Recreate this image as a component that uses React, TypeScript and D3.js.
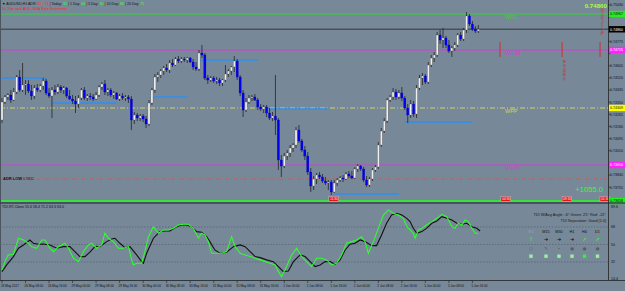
import * as d3 from 'd3';

const W = 625;
const H = 291;
const AXIS_X = 608.5;
const FONT = 'Liberation Sans, Arial, sans-serif';

// AUDUSD H1 bars: [open, high, low, close]
const candles: [number, number, number, number][] = [
  [0.74225, 0.74379, 0.74204, 0.74351], [0.74351, 0.74400, 0.74337, 0.74386], [0.74386, 0.74414, 0.74365, 0.74400],
  [0.74400, 0.74435, 0.74344, 0.74365], [0.74365, 0.74449, 0.74358, 0.74421], [0.74421, 0.74540, 0.74407, 0.74526],
  [0.74526, 0.74575, 0.74421, 0.74435], [0.74435, 0.74624, 0.74421, 0.74470], [0.74470, 0.74505, 0.74400, 0.74477],
  [0.74477, 0.74505, 0.74414, 0.74428], [0.74428, 0.74470, 0.74365, 0.74393], [0.74393, 0.74470, 0.74372, 0.74449],
  [0.74449, 0.74477, 0.74421, 0.74435], [0.74435, 0.74477, 0.74421, 0.74463], [0.74463, 0.74519, 0.74435, 0.74498],
  [0.74498, 0.74512, 0.74400, 0.74414], [0.74414, 0.74449, 0.74379, 0.74393], [0.74393, 0.74456, 0.74239, 0.74435],
  [0.74435, 0.74470, 0.74400, 0.74421], [0.74421, 0.74477, 0.74407, 0.74456], [0.74456, 0.74470, 0.74414, 0.74435],
  [0.74435, 0.74463, 0.74407, 0.74449], [0.74449, 0.74456, 0.74379, 0.74393], [0.74393, 0.74435, 0.74365, 0.74372],
  [0.74372, 0.74400, 0.74337, 0.74358], [0.74358, 0.74393, 0.74274, 0.74337], [0.74337, 0.74400, 0.74309, 0.74379],
  [0.74379, 0.74449, 0.74365, 0.74435], [0.74435, 0.74456, 0.74365, 0.74379], [0.74379, 0.74407, 0.74358, 0.74393],
  [0.74393, 0.74414, 0.74365, 0.74386], [0.74386, 0.74407, 0.74358, 0.74372], [0.74372, 0.74421, 0.74365, 0.74400],
  [0.74400, 0.74470, 0.74386, 0.74456], [0.74456, 0.74491, 0.74435, 0.74477], [0.74477, 0.74505, 0.74400, 0.74421],
  [0.74421, 0.74449, 0.74393, 0.74435], [0.74435, 0.74449, 0.74386, 0.74400], [0.74400, 0.74428, 0.74372, 0.74414],
  [0.74414, 0.74421, 0.74365, 0.74372], [0.74372, 0.74407, 0.74358, 0.74393], [0.74393, 0.74414, 0.74365, 0.74379],
  [0.74379, 0.74400, 0.74358, 0.74386], [0.74386, 0.74400, 0.74344, 0.74372], [0.74372, 0.74393, 0.74155, 0.74225],
  [0.74225, 0.74281, 0.74197, 0.74260], [0.74260, 0.74274, 0.74218, 0.74239], [0.74239, 0.74267, 0.74218, 0.74253],
  [0.74253, 0.74267, 0.74211, 0.74232], [0.74232, 0.74253, 0.74169, 0.74197], [0.74197, 0.74365, 0.74183, 0.74344],
  [0.74344, 0.74449, 0.74330, 0.74435], [0.74435, 0.74547, 0.74414, 0.74526], [0.74526, 0.74561, 0.74491, 0.74540],
  [0.74540, 0.74582, 0.74519, 0.74568], [0.74568, 0.74603, 0.74540, 0.74589], [0.74589, 0.74617, 0.74561, 0.74575],
  [0.74575, 0.74645, 0.74554, 0.74624], [0.74624, 0.74652, 0.74596, 0.74610], [0.74610, 0.74666, 0.74603, 0.74652],
  [0.74652, 0.74673, 0.74624, 0.74638], [0.74638, 0.74666, 0.74624, 0.74652], [0.74652, 0.74666, 0.74631, 0.74645],
  [0.74645, 0.74666, 0.74624, 0.74659], [0.74659, 0.74666, 0.74624, 0.74631], [0.74631, 0.74652, 0.74575, 0.74596],
  [0.74596, 0.74631, 0.74568, 0.74582], [0.74582, 0.74715, 0.74568, 0.74694], [0.74694, 0.74750, 0.74659, 0.74680],
  [0.74680, 0.74694, 0.74505, 0.74519], [0.74519, 0.74540, 0.74477, 0.74505], [0.74505, 0.74533, 0.74491, 0.74519],
  [0.74519, 0.74533, 0.74484, 0.74498], [0.74498, 0.74526, 0.74477, 0.74505], [0.74505, 0.74519, 0.74463, 0.74484],
  [0.74484, 0.74512, 0.74463, 0.74505], [0.74505, 0.74610, 0.74491, 0.74547], [0.74547, 0.74582, 0.74526, 0.74568],
  [0.74568, 0.74603, 0.74540, 0.74596], [0.74596, 0.74673, 0.74561, 0.74638], [0.74638, 0.74652, 0.74505, 0.74526],
  [0.74526, 0.74540, 0.74393, 0.74414], [0.74414, 0.74435, 0.74246, 0.74295], [0.74295, 0.74379, 0.74281, 0.74351],
  [0.74351, 0.74400, 0.74337, 0.74379], [0.74379, 0.74400, 0.74358, 0.74386], [0.74386, 0.74407, 0.74358, 0.74365],
  [0.74365, 0.74379, 0.74295, 0.74316], [0.74316, 0.74337, 0.74288, 0.74302], [0.74302, 0.74330, 0.74274, 0.74316],
  [0.74316, 0.74330, 0.74246, 0.74274], [0.74274, 0.74309, 0.74225, 0.74239], [0.74239, 0.74281, 0.74218, 0.74253],
  [0.74253, 0.74540, 0.74120, 0.74225], [0.74225, 0.74239, 0.73875, 0.73945], [0.73945, 0.73980, 0.73826, 0.73903],
  [0.73903, 0.73994, 0.73889, 0.73973], [0.73973, 0.74015, 0.73945, 0.73994], [0.73994, 0.74050, 0.73966, 0.74029],
  [0.74029, 0.74064, 0.74001, 0.74050], [0.74050, 0.74176, 0.74029, 0.74155], [0.74155, 0.74190, 0.74064, 0.74078],
  [0.74078, 0.74092, 0.74001, 0.74015], [0.74015, 0.74043, 0.73945, 0.73973], [0.73973, 0.74001, 0.73840, 0.73861],
  [0.73861, 0.73889, 0.73721, 0.73763], [0.73763, 0.73833, 0.73735, 0.73812], [0.73812, 0.73854, 0.73777, 0.73840],
  [0.73840, 0.73861, 0.73812, 0.73826], [0.73826, 0.73847, 0.73784, 0.73798], [0.73798, 0.73826, 0.73770, 0.73784],
  [0.73784, 0.73805, 0.73735, 0.73791], [0.73791, 0.73805, 0.73700, 0.73721], [0.73721, 0.73805, 0.73714, 0.73784],
  [0.73784, 0.73819, 0.73763, 0.73805], [0.73805, 0.73833, 0.73791, 0.73819], [0.73819, 0.73840, 0.73791, 0.73812],
  [0.73812, 0.73861, 0.73805, 0.73847], [0.73847, 0.73868, 0.73819, 0.73833], [0.73833, 0.73868, 0.73812, 0.73819],
  [0.73819, 0.73896, 0.73812, 0.73882], [0.73882, 0.73917, 0.73861, 0.73903], [0.73903, 0.73910, 0.73868, 0.73882],
  [0.73882, 0.73896, 0.73791, 0.73805], [0.73805, 0.73833, 0.73756, 0.73770], [0.73770, 0.73826, 0.73756, 0.73812],
  [0.73812, 0.73889, 0.73798, 0.73875], [0.73875, 0.73910, 0.73861, 0.73896], [0.73896, 0.74071, 0.73882, 0.74050],
  [0.74050, 0.74169, 0.74036, 0.74148], [0.74148, 0.74239, 0.74134, 0.74218], [0.74218, 0.74379, 0.74204, 0.74365],
  [0.74365, 0.74400, 0.74351, 0.74386], [0.74386, 0.74449, 0.74365, 0.74421], [0.74421, 0.74442, 0.74365, 0.74386],
  [0.74386, 0.74435, 0.74372, 0.74414], [0.74414, 0.74456, 0.74358, 0.74379], [0.74379, 0.74393, 0.74295, 0.74309],
  [0.74309, 0.74337, 0.74204, 0.74260], [0.74260, 0.74365, 0.74239, 0.74337], [0.74337, 0.74358, 0.74246, 0.74267],
  [0.74267, 0.74470, 0.74239, 0.74449], [0.74449, 0.74540, 0.74435, 0.74519], [0.74519, 0.74554, 0.74470, 0.74533],
  [0.74533, 0.74547, 0.74477, 0.74491], [0.74491, 0.74631, 0.74477, 0.74610], [0.74610, 0.74680, 0.74596, 0.74659],
  [0.74659, 0.74701, 0.74631, 0.74680], [0.74680, 0.74841, 0.74666, 0.74820], [0.74820, 0.74855, 0.74757, 0.74785],
  [0.74785, 0.74869, 0.74729, 0.74799], [0.74799, 0.74813, 0.74729, 0.74750], [0.74750, 0.74785, 0.74694, 0.74708],
  [0.74708, 0.74743, 0.74666, 0.74729], [0.74729, 0.74771, 0.74708, 0.74750], [0.74750, 0.74834, 0.74736, 0.74820],
  [0.74820, 0.74841, 0.74778, 0.74792], [0.74792, 0.74869, 0.74778, 0.74855], [0.74855, 0.74981, 0.74834, 0.74953],
  [0.74953, 0.74967, 0.74883, 0.74897], [0.74897, 0.74918, 0.74848, 0.74862], [0.74862, 0.74883, 0.74834, 0.74848],
  [0.74848, 0.74890, 0.74834, 0.74860],
];

const priceTicks = [
  0.75030, 0.74945, 0.74860, 0.74775, 0.74690, 0.74605, 0.74520, 0.74435, 0.74350,
  0.74265, 0.74180, 0.74095, 0.74010, 0.73925, 0.73840, 0.73755, 0.73670,
];

// one label every 8 bars
const timeLabels = [
  '26 May 2017', '26 May 08:00', '26 May 16:00', '29 May 00:00', '29 May 08:00', '29 May 16:00',
  '30 May 00:00', '30 May 08:00', '30 May 16:00', '31 May 00:00', '31 May 08:00', '31 May 16:00',
  '1 Jun 00:00', '1 Jun 08:00', '1 Jun 16:00', '2 Jun 00:00', '2 Jun 08:00', '2 Jun 16:00',
  '5 Jun 00:00', '5 Jun 08:00', '5 Jun 16:00',
];

const pivotNames = ['WR1', 'WR38', 'WPP', 'WS38', 'WS1'];
const pivotPrices = [0.74967, 0.74715, 0.74309, 0.73910, 0.73658];
const bidPrice = 0.74860;
const adrLowPrice = 0.73812;

// support / resistance stubs: [fromBar, toBar, price]
const srLevels: [number, number, number][] = [
  [0, 15, 0.74519], [17, 39, 0.74344], [51, 63, 0.74386], [67, 87, 0.74645],
  [90, 111, 0.74302], [113, 135, 0.73707], [137, 160, 0.74211],
];

// news events (bar position, time)
const eventBars = [111.2, 169.7, 190.5, 203.4];
const eventTimes = ['11:30', '04:30', '09:30', '01:30'];
const eventLineBars = [169.4, 190.5, 203.4];
const eventLineTexts = ['', 'AUD RBA 4h', 'USD ISM Non-Mfg'];

// TDI: [bar, value]
const tdiGreen: [number, number][] = [
  [0, 23.8], [1, 32.3], [2.1, 39.2], [3.9, 39.9], [5.6, 56.4], [7.3, 54.6], [9, 51.2], [10.1, 47.7], [11.8, 46.1],
  [13.5, 54.6], [14.6, 54.6], [16.3, 46.1], [17.5, 42.6], [19.2, 47.7], [21.4, 51.2], [22.6, 46.1], [24.3, 35.8],
  [26, 32.3], [27.7, 42.6], [29.4, 49.5], [30.5, 51.2], [32.2, 46.1], [33.9, 49.5], [35, 61.5], [36.2, 56.4],
  [37.9, 52.9], [39.6, 46.1], [41.3, 46.1], [43, 47.7], [44.1, 34.1], [44.7, 28.9], [45.8, 30.7], [47.5, 30.7],
  [48.6, 42.6], [49.8, 58.0], [51.5, 68.3], [53.2, 61.5], [54.9, 64.9], [56.6, 64.9], [58.3, 66.6], [60, 70.1],
  [61.7, 70.8], [63.4, 70.8], [65.1, 66.6], [66.8, 56.4], [67.9, 61.5], [69, 59.8], [70.2, 52.9], [71.3, 40.9],
  [73, 40.9], [74.7, 40.9], [76.4, 42.6], [78.1, 58.0], [79.3, 47.7], [81, 40.9], [82.7, 39.2], [84.4, 37.5],
  [86.1, 35.8], [87.8, 34.1], [89.5, 32.3], [91.2, 30.7], [92.9, 28.9], [94, 22.0], [95.1, 16.9], [96.8, 27.2],
  [98.5, 39.2], [100.2, 46.1], [101.9, 37.5], [103.6, 32.3], [105.3, 27.2], [107, 35.8], [108.7, 35.8],
  [110.4, 34.1], [112.1, 28.9], [113.8, 30.7], [115.5, 39.2], [117.2, 51.2], [118.9, 52.9], [120.6, 54.6],
  [122.3, 58.0], [123.5, 52.9], [124.6, 40.9], [126.3, 52.9], [128, 66.6], [129.7, 80.3], [131.4, 85.5],
  [133.1, 82.1], [134.8, 80.3], [136.5, 76.9], [137.7, 68.3], [138.8, 64.9], [139.9, 61.5], [140.5, 56.4],
  [141.6, 64.9], [142.8, 66.6], [144.4, 70.1], [146.2, 73.5], [147.9, 76.9], [149.6, 81.0], [151.3, 78.6],
  [153, 68.3], [154.1, 66.6], [155.2, 71.8], [156.4, 70.1], [157.5, 75.2], [158.6, 73.5], [159.8, 66.6],
  [160.9, 61.5], [162, 61.5],
];

const tdiBlack: [number, number][] = [
  [0, 22.0], [1.6, 28.9], [3.9, 37.5], [5.6, 46.1], [7.3, 49.5], [9.5, 54.6], [10.7, 51.2], [12.4, 50.2],
  [14, 50.5], [16.3, 49.5], [18.6, 46.1], [20.9, 47.7], [23.1, 47.7], [24.8, 42.6], [26.5, 37.5], [28.2, 37.5],
  [29.9, 42.0], [31.6, 47.7], [33.3, 47.7], [35.6, 52.9], [37.3, 55.7], [38.4, 56.4], [40.1, 51.2], [41.8, 46.7],
  [43.5, 47.7], [45.8, 39.2], [47.5, 32.3], [48.1, 30.7], [49.2, 40.9], [51.5, 56.4], [53.7, 63.2], [55.4, 63.9],
  [57.1, 63.9], [59.4, 68.3], [61.1, 70.1], [62.8, 70.1], [64.5, 68.3], [66.2, 63.2], [67.9, 62.5], [69.6, 58.0],
  [70.7, 52.9], [72.4, 44.3], [74.1, 40.9], [76.4, 42.0], [78.7, 47.7], [81, 49.5], [82.7, 47.7], [84.4, 42.6],
  [86.1, 37.5], [87.8, 36.4], [90, 34.1], [92.3, 32.3], [94, 27.2], [95.7, 22.0], [97.4, 22.7], [99.1, 32.3],
  [101.4, 39.2], [103.1, 37.5], [104.8, 32.3], [106.5, 27.2], [108.2, 28.9], [109.9, 32.3], [111.6, 32.3],
  [113.3, 29.6], [115, 34.1], [116.7, 44.3], [118.4, 50.2], [120.1, 51.2], [121.8, 54.6], [123.5, 52.9],
  [125.7, 48.8], [127.4, 48.8], [129.1, 59.8], [130.8, 71.8], [132.5, 80.3], [134.2, 82.1], [136, 80.3],
  [137.7, 76.9], [138.8, 73.5], [139.9, 66.6], [141.1, 61.5], [142.8, 63.2], [144.4, 66.6], [146.2, 71.8],
  [147.9, 74.2], [149.6, 78.6], [151.3, 76.9], [153, 75.2], [154.7, 71.8], [156.4, 70.8], [158.1, 71.8],
  [159.8, 68.3], [161.5, 66.6], [162.6, 63.9],
];

const tdiLevels = [68, 50, 32];
const tdiRange = [14.4, 89.6];

const tfNames = ['M1', 'M15', 'M30', 'H1', 'H4', 'D1'];
const tfArrows = ['↑', '➜', '➜', '➜', '↗', '↗'];
const tfStatus = ['○', '✎', '•', '●', '●', '●'];
const tfStrong = [false, false, false, false, true, false];

export default function App() {
  const x = d3.scaleLinear().domain([0, 162]).range([2, 478.3]);
  const y = d3.scaleLinear().domain([0.75065, 0.73665]).range([0, 200]);
  const ty = d3.scaleLinear().domain(tdiRange).range([279, 206]);

  const tdiLine = d3.line<[number, number]>().x(d => x(d[0])).y(d => ty(d[1]));

  const pivotColor = ['#33d633', '#d23fd2', '#d2d26a', '#d23fd2', '#22ff22'];
  const boxColor = ['#22ee22', '#ff22ff', '#ffff00', '#ff22ff', '#22ee22'];
  const boxText = ['#111', '#fff', '#111', '#fff', '#111'];
  const tfCols = [531, 546, 559, 572, 584.5, 597.5];

  // axis ticks sitting under a price box are hidden, as on the terminal
  const boxYs = [...pivotPrices, bidPrice].map(p => y(p));
  const visibleTicks = priceTicks.filter(t => boxYs.every(b => Math.abs(y(t) - b) > 5.5));

  const priceBox = (p: number, bg: string, fg: string, key: string) => (
    <g key={key}>
      <rect x={AXIS_X} y={y(p) - 3.2} width={W - AXIS_X} height={6.4} fill={bg} />
      <text x={610} y={y(p) + 1.4} fontSize={3.6} fill={fg}>{p.toFixed(5)}</text>
    </g>
  );

  return (
    <div style={{ position: 'absolute', left: 0, top: 0 }}>
      <svg width={W} height={H} style={{ display: 'block', fontFamily: FONT }}>
        <rect width={W} height={H} fill="#778899" />

        {/* price axis ticks */}
        {priceTicks.map(t => (
          <line key={'t' + t} x1={AXIS_X} x2={AXIS_X + 2} y1={y(t)} y2={y(t)} stroke="#222" strokeWidth={0.6} />
        ))}
        {visibleTicks.map(t => (
          <text key={'tl' + t} x={610} y={y(t) + 1.4} fontSize={3.6} fill="#111">{t.toFixed(5)}</text>
        ))}

        {/* pivot lines */}
        {pivotPrices.map((p, i) => (
          <line key={pivotNames[i]} x1={0} x2={AXIS_X} y1={y(p)} y2={y(p)}
            stroke={pivotColor[i]} strokeWidth={pivotNames[i] === 'WS1' ? 1.6 : 1}
            strokeDasharray={pivotNames[i] === 'WPP' ? '5,2,1,2' : undefined} />
        ))}
        {pivotPrices.map((p, i) => i < 4 && (
          <text key={'l' + i} x={505} y={y(p) + 4.5} fontSize={5.5} fill={pivotColor[i]}>{pivotNames[i]}</text>
        ))}
        <line x1={0} x2={AXIS_X} y1={y(adrLowPrice)} y2={y(adrLowPrice)} stroke="#d45a50" strokeWidth={0.9} strokeDasharray="4,2,1,2" />
        <line x1={0} x2={AXIS_X} y1={y(bidPrice)} y2={y(bidPrice)} stroke="#4a5058" strokeWidth={1.4} />
        <text x={3} y={y(adrLowPrice) + 0.5} fontSize={4} fontWeight="bold" fill="#111">ADR LOW
          <tspan fontSize={3} fontWeight="normal"> 0.73812</tspan></text>

        {/* support / resistance stubs */}
        {srLevels.map(([a, b, p], i) => (
          <line key={'sr' + i} x1={x(a)} x2={x(b)} y1={y(p)} y2={y(p)} stroke="#2e8ff0" strokeWidth={1.3} />
        ))}

        {/* candles */}
        {candles.map(([o, h, l, c], i) => {
          const cx = x(i);
          const bull = c >= o;
          const top = y(Math.max(o, c));
          const bh = Math.max(0.8, Math.abs(y(o) - y(c)));
          return (
            <g key={i}>
              <line x1={cx} x2={cx} y1={y(h)} y2={y(l)} stroke="#262626" strokeWidth={0.8} />
              <rect x={cx - 1.05} y={top} width={2.1} height={bh}
                fill={bull ? '#eeeeee' : '#0000f0'} stroke={bull ? '#444' : '#0000c0'} strokeWidth={0.3} />
            </g>
          );
        })}

        {/* event lines */}
        {eventLineBars.map((b, i) => (
          <g key={'ev' + i}>
            <line x1={x(b)} x2={x(b)} y1={y(0.74771)} y2={y(0.74666)} stroke="#d03030" strokeWidth={1} />
            {i === 1 && (
              <text transform={`translate(${x(b) + 1.2},${y(0.74645)}) rotate(90)`} fontSize={3.6} fill="#d03030">{eventLineTexts[i]}</text>
            )}
            {i === 2 && (
              <text transform={`translate(${x(b) + 1.2},${y(0.75030)}) rotate(90)`} fontSize={3.6} fill="#d03030">{eventLineTexts[i]}</text>
            )}
          </g>
        ))}

        {eventBars.map((b, i) => (
          <g key={'eb' + i}>
            <rect x={x(b)} y={196.5} width={9.5} height={5} fill="#e01818" stroke="#fff" strokeWidth={0.3} />
            <text x={x(b) + 1.2} y={200.2} fontSize={3.2} fill="#fff">{eventTimes[i]}</text>
          </g>
        ))}

        <text x={603} y={192} fontSize={7.6} fill="#33ff33" textAnchor="end">+1055.0</text>
        <text x={607} y={8} fontSize={6.2} fontWeight="bold" fill="#a8ff30" textAnchor="end">0.74860</text>

        {/* price boxes */}
        {pivotPrices.map((p, i) => priceBox(p, boxColor[i], boxText[i], 'pb' + i))}
        {priceBox(bidPrice, '#000', '#fff', 'bid')}

        {/* header */}
        <text x={2} y={5} fontSize={3.6} fill="#111">▼ AUDUSD,H1   ADR: <tspan fill="#ff3030">86 / 74</tspan>  |  Today: <tspan fill="#33ff33">33</tspan>  |  1 Day: <tspan fill="#33ff33">66</tspan>  |  5 Day: <tspan fill="#33ff33">80</tspan>  |  10 Day: <tspan fill="#33ff33">88</tspan>  |  20 Day: <tspan fill="#33ff33">75</tspan></text>
        <text x={2} y={10} fontSize={3.7} fill="#ff2020">1h 20m until AUD: RBA Rate Statement</text>

        {/* panel separators & axis */}
        <line x1={0.5} x2={0.5} y1={0} y2={280} stroke="#4a5560" strokeWidth={1} />
        <line x1={0} x2={W} y1={203} y2={203} stroke="#3a4048" strokeWidth={1.6} />
        <line x1={AXIS_X} x2={AXIS_X} y1={0} y2={280} stroke="#222" strokeWidth={0.8} />
        <line x1={0} x2={W} y1={280.5} y2={280.5} stroke="#222" strokeWidth={0.8} />

        {/* TDI panel */}
        {tdiLevels.map(v => (
          <g key={'lv' + v}>
            <line x1={0} x2={AXIS_X} y1={ty(v)} y2={ty(v)} stroke="#55606b" strokeWidth={0.7} strokeDasharray="1.5,1.5" />
            <text x={611} y={ty(v) + 1.4} fontSize={3.6} fill="#111">{v}</text>
          </g>
        ))}
        {tdiRange.map(v => (
          <text key={'tr' + v} x={611} y={ty(v) + (v > 50 ? 2.4 : 0.6)} fontSize={3.6} fill="#111">{v}</text>
        ))}
        <path d={tdiLine(tdiBlack) || ''} fill="none" stroke="#111" strokeWidth={1.1} />
        <path d={tdiLine(tdiGreen) || ''} fill="none" stroke="#2cff2c" strokeWidth={1.1} />
        <text x={2} y={208} fontSize={3.6} fill="#111">TDI-RT-Clone 55.6 58.4 71.2 63.3 63.0</text>

        <text x={606} y={215.5} fontSize={3.8} fill="#1a1a1a" textAnchor="end">TDI W/Avg Angle: -6°  Green: 25°  Red: -22°</text>
        <text x={606} y={221.5} fontSize={3.8} fill="#1a1a1a" textAnchor="end">TDI Separation: Good [1.0]</text>
        {tfNames.map((n, i) => (
          <g key={n}>
            <text x={tfCols[i]} y={233} fontSize={3.8} textAnchor="middle" fill={i === 0 ? '#98a0a8' : '#111'}>{n}</text>
            <text x={tfCols[i]} y={241} fontSize={5} textAnchor="middle" fontFamily="DejaVu Sans"
              fill={tfArrows[i] === '➜' ? '#111' : '#33ff33'}>{tfArrows[i]}</text>
            <text x={tfCols[i]} y={249.5} fontSize={4.2} textAnchor="middle" fontFamily="DejaVu Sans" fill="#555c63">{tfStatus[i]}</text>
            <rect x={tfCols[i] - 1.7} y={254.5} width={3.4} height={3.4} fill={tfStrong[i] ? '#22ff22' : '#9cf09c'} />
          </g>
        ))}

        {/* time axis */}
        {timeLabels.map((t, i) => (
          <g key={t}>
            <line x1={x(i * 8)} x2={x(i * 8)} y1={280.5} y2={283} stroke="#222" strokeWidth={0.6} />
            <text x={x(i * 8) - 1} y={287} fontSize={3.1} fill="#111">{t}</text>
          </g>
        ))}
      </svg>
    </div>
  );
}
